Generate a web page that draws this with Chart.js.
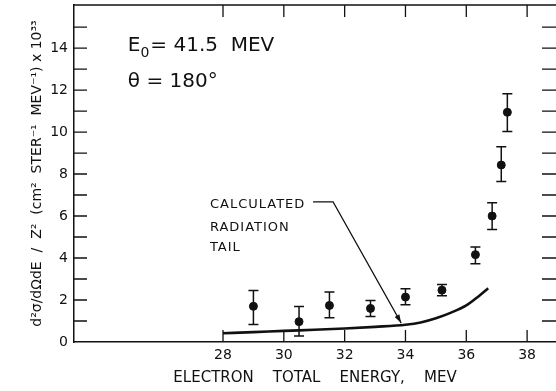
<!DOCTYPE html>
<html>
<head>
<meta charset="utf-8">
<script src="https://cdn.jsdelivr.net/npm/chart.js@4/dist/chart.umd.min.js"></script>
<style>
  html, body { margin: 0; padding: 0; background: #fff; }
  #wrap { width: 556px; height: 391px; }
</style>
</head>
<body>
<div id="wrap"><canvas id="chart"></canvas></div>
<script>
// measured points (electron energy, MeV) and cross section with error bars
const energy = [29.0, 30.5, 31.5, 32.85, 34.0, 35.2, 36.3, 36.85, 37.15, 37.35];
const sigma = [1.7, 0.97, 1.74, 1.6, 2.14, 2.47, 4.16, 6.0, 8.43, 10.94];
const errLow = [0.83, 0.29, 1.16, 1.21, 1.77, 2.2, 3.73, 5.36, 7.64, 10.03];
const errHigh = [2.45, 1.69, 2.38, 1.98, 2.54, 2.74, 4.53, 6.63, 9.3, 11.82];

// calculated radiation tail
const tailEnergy = [28, 29, 30, 31, 32, 33, 34, 34.5, 35, 35.5, 36, 36.4, 36.72];
const tailValue = [0.42, 0.47, 0.53, 0.58, 0.64, 0.72, 0.82, 0.93, 1.13, 1.4, 1.74, 2.17, 2.56];

const xLabels = [28, 30, 32, 34, 36, 38];
const yLabels = [0, 2, 4, 6, 8, 10, 12, 14];

const FONT = 'DejaVu Sans';

// inward ticks, top border, error bars and the notes
const extras = {
  id: 'extras',
  afterDatasetsDraw(chart) {
    const { ctx, chartArea: a, scales: { x, y } } = chart;
    ctx.save();
    ctx.strokeStyle = '#111';
    ctx.fillStyle = '#111';

    // top border
    ctx.lineWidth = 1.5;
    ctx.beginPath();
    ctx.moveTo(a.left, a.top);
    ctx.lineTo(a.right, a.top);
    ctx.stroke();

    ctx.lineWidth = 1.3;
    for (let v = 1; v <= 15; v++) {
      const py = y.getPixelForValue(v);
      ctx.beginPath();
      ctx.moveTo(a.left, py); ctx.lineTo(a.left + 13, py);
      ctx.moveTo(a.right - 14, py); ctx.lineTo(a.right, py);
      ctx.stroke();
    }
    xLabels.forEach(v => {
      const px = x.getPixelForValue(v);
      ctx.beginPath();
      ctx.moveTo(px, a.bottom); ctx.lineTo(px, a.bottom - 12);
      ctx.moveTo(px, a.top); ctx.lineTo(px, a.top + 12);
      ctx.stroke();
    });

    // error bars
    ctx.lineWidth = 1.5;
    energy.forEach((e, i) => {
      const px = x.getPixelForValue(e);
      const lo = y.getPixelForValue(errLow[i]);
      const hi = y.getPixelForValue(errHigh[i]);
      ctx.beginPath();
      ctx.moveTo(px, lo); ctx.lineTo(px, hi);
      ctx.moveTo(px - 5, lo); ctx.lineTo(px + 5, lo);
      ctx.moveTo(px - 5, hi); ctx.lineTo(px + 5, hi);
      ctx.stroke();
    });

    // notes
    ctx.textBaseline = 'middle';
    ctx.textAlign = 'left';
    ctx.font = '20px ' + FONT;
    const ex = x.getPixelForValue(24.87), ey = y.getPixelForValue(14.1);
    ctx.fillText('E', ex, ey);
    let w = ctx.measureText('E').width;
    ctx.font = '14px ' + FONT;
    ctx.fillText('0', ex + w, ey + 7);
    w += ctx.measureText('0').width + 1;
    ctx.font = '20px ' + FONT;
    ctx.fillText('= 41.5  MEV', ex + w, ey);
    ctx.fillText('\u03B8 = 180\u00B0', ex, y.getPixelForValue(12.4));

    ctx.font = '13px ' + FONT;
    ctx.letterSpacing = '1px';
    const tx = x.getPixelForValue(27.57);
    ctx.fillText('CALCULATED', tx, y.getPixelForValue(6.52));
    ctx.fillText('RADIATION', tx, y.getPixelForValue(5.43));
    ctx.fillText('TAIL', tx, y.getPixelForValue(4.48));

    // leader arrow
    ctx.lineWidth = 1.2;
    const x0 = x.getPixelForValue(30.96), y0 = y.getPixelForValue(6.67);
    const x1 = x.getPixelForValue(31.62);
    const x2 = x.getPixelForValue(33.86), y2 = y.getPixelForValue(0.9);
    ctx.beginPath();
    ctx.moveTo(x0, y0); ctx.lineTo(x1, y0); ctx.lineTo(x2, y2);
    ctx.stroke();
    const ang = Math.atan2(y2 - y0, x2 - x1);
    ctx.beginPath();
    ctx.moveTo(x2, y2);
    ctx.lineTo(x2 - 9 * Math.cos(ang - 0.3), y2 - 9 * Math.sin(ang - 0.3));
    ctx.lineTo(x2 - 9 * Math.cos(ang + 0.3), y2 - 9 * Math.sin(ang + 0.3));
    ctx.closePath();
    ctx.fill();
    ctx.restore();
  }
};

const ctx = document.getElementById('chart').getContext('2d');
new Chart(ctx, {
  type: 'scatter',
  data: {
    datasets: [
      {
        label: 'measured',
        data: energy.map((e, i) => ({ x: e, y: sigma[i] })),
        backgroundColor: '#111',
        borderColor: '#111',
        pointRadius: 4,
      },
      {
        label: 'calculated radiation tail',
        data: tailEnergy.map((e, i) => ({ x: e, y: tailValue[i] })),
        showLine: true,
        borderColor: '#111',
        borderWidth: 2.6,
        pointRadius: 0,
        cubicInterpolationMode: 'monotone',
      },
    ],
  },
  options: {
    responsive: true,
    maintainAspectRatio: false,
    animation: false,
    layout: { autoPadding: false, padding: { top: 5, right: 0, left: 0, bottom: 0 } },
    plugins: { legend: { display: false }, tooltip: { enabled: false } },
    scales: {
      x: {
        type: 'linear',
        min: 23.1,
        max: 38.95,
        afterFit: (s) => { s.height = 49; s.paddingLeft = 0; s.paddingRight = 0; },
        grid: { drawOnChartArea: false, drawTicks: false },
        border: { display: true, color: '#111', width: 1.5 },
        ticks: {
          stepSize: 1,
          autoSkip: false,
          includeBounds: false,
          maxRotation: 0,
          padding: 5,
          color: '#111',
          font: { family: FONT, size: 14 },
          callback: (v) => (xLabels.includes(v) ? String(v) : ''),
        },
        title: {
          display: true,
          text: 'ELECTRON    TOTAL    ENERGY,    MEV',
          color: '#111',
          font: { family: FONT, size: 15 },
          padding: { top: 7 },
        },
      },
      y: {
        min: 0,
        max: 16.05,
        afterFit: (s) => { s.width = 74; s.paddingTop = 0; s.paddingBottom = 0; },
        grid: { drawOnChartArea: false, drawTicks: false },
        border: { display: true, color: '#111', width: 1.5 },
        ticks: {
          stepSize: 1,
          autoSkip: false,
          includeBounds: false,
          padding: 6,
          color: '#111',
          font: { family: FONT, size: 14 },
          callback: (v) => (yLabels.includes(v) ? String(v) : ''),
        },
        title: {
          display: true,
          text: 'd\u00B2\u03C3/d\u03A9dE  /  Z\u00B2  (cm\u00B2  STER\u207B\u00B9  MEV\u207B\u00B9) x 10\u00B3\u00B3',
          color: '#111',
          font: { family: FONT, size: 14 },
          padding: { top: 29, bottom: 0 },
        },
      },
    },
  },
  plugins: [extras],
});
</script>
</body>
</html>
